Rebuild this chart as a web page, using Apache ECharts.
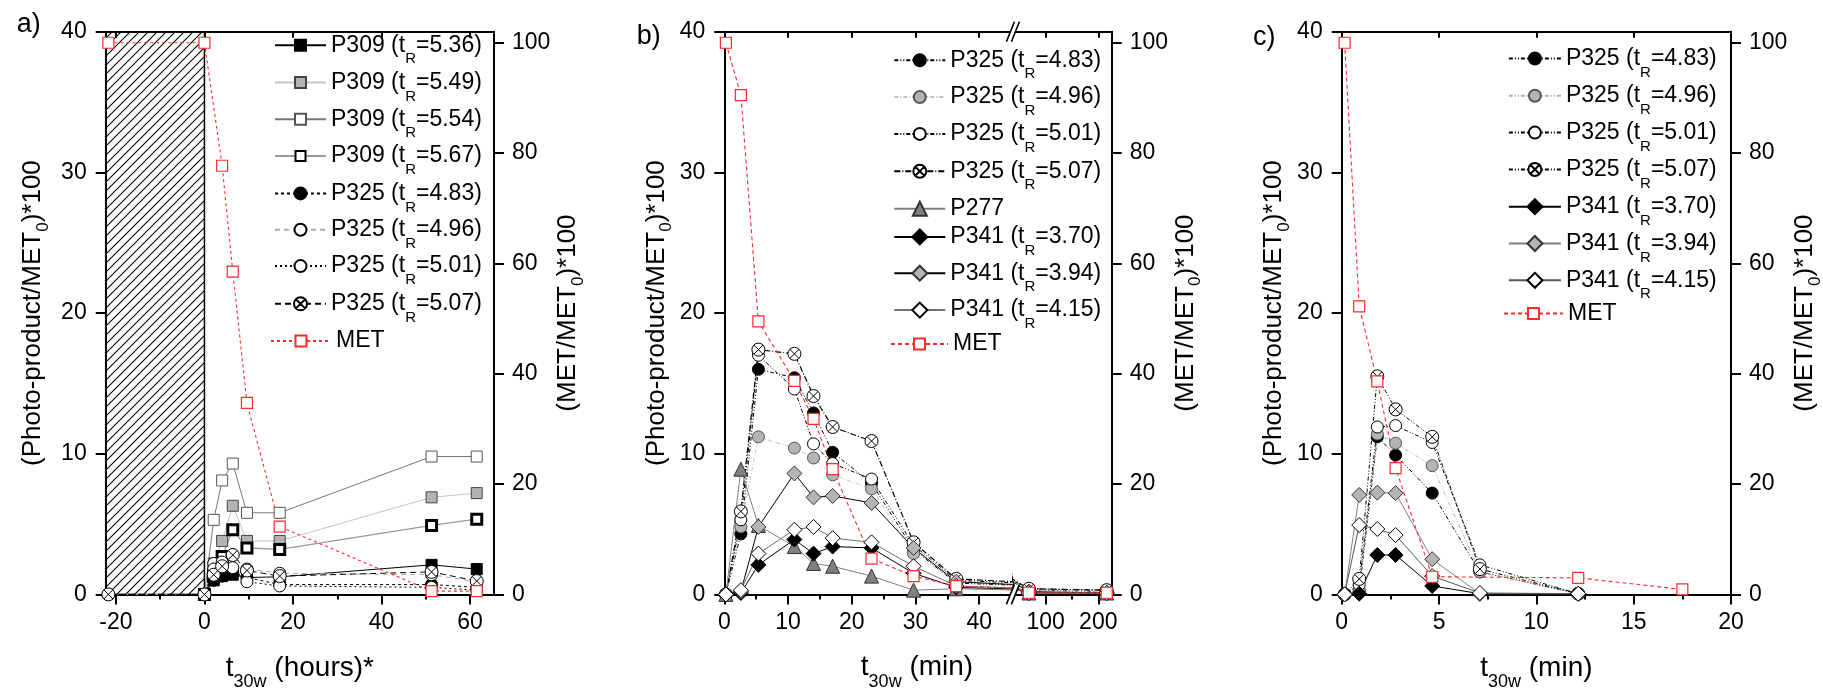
<!DOCTYPE html>
<html><head><meta charset="utf-8">
<script src="https://cdn.jsdelivr.net/npm/echarts@6.0.0/dist/echarts.min.js"></script>
<style>html,body{margin:0;padding:0;background:#fff}#c{width:1823px;height:692px}</style>
</head><body><div id="c"></div><script>
// ---------------- DATA ----------------
// Panel a (hours)
const aTime      = [0, 2.1, 4, 6.4, 9.6, 17, 51.3, 61.5];
const aTimeP325  = [-21.7, 0, 2.1, 4, 6.4, 9.6, 17, 51.3, 61.5];
const aP309_536  = [0, 1.0, 1.3, 1.4, 1.2, 1.25, 2.1, 1.8];
const aP309_549  = [0, 2.2, 3.8, 6.3, 3.8, 3.8, 6.9, 7.2];
const aP309_554  = [0, 5.3, 8.1, 9.3, 5.8, 5.8, 9.8, 9.8];
const aP309_567  = [0, 1.3, 2.7, 4.6, 3.3, 3.2, 4.9, 5.35];
const aP325_483  = [0, 0, 1.0, 1.3, 1.5, 1.2, 0.7, 0.7, 0.5];
const aP325_496  = [0, 0, 2.2, 2.3, 2.8, 1.8, 1.5, 1.4, 0.9];
const aP325_501  = [0, 0, 1.8, 1.9, 1.9, 0.9, 0.6, 0.5, 0.3];
const aP325_507  = [0, 0, 1.4, 2.0, 2.8, 1.7, 1.3, 1.6, 0.95];
const aMetTime   = [-21.7, 0, 4, 6.4, 9.6, 17, 51.3, 61.5];
const aMet       = [100, 100, 77.7, 58.5, 34.7, 12.3, 0.6, 0.6];
const aDarkPeriod = [-22.3, 0];

// Panel b (min)
const bTime      = [0.25, 2.6, 5.35, 11.0, 14.0, 17.0, 23.1, 29.7, 36.4, 68, 216];
const bP325_483  = [0, 4.3, 16.0, 15.4, 12.9, 10.1, 7.9, 3.2, 0.8, 0.3, 0.2];
const bP325_496  = [0, 4.8, 11.2, 10.4, 9.7, 8.5, 7.5, 2.9, 0.9, 0.3, 0.2];
const bP325_501  = [0, 5.3, 17.0, 14.6, 10.7, 9.3, 8.2, 3.5, 1.0, 0.4, 0.3];
const bP325_507  = [0, 5.9, 17.4, 17.1, 14.1, 11.9, 10.9, 3.7, 1.1, 0.4, 0.3];
const bP277      = [0, 8.9, 4.9, 3.4, 2.2, 2.0, 1.3, 0.3, 0.4, 0.1, 0.1];
const bP341_370  = [0, 0.1, 2.1, 3.9, 2.9, 3.4, 3.3, 1.5, 0.5, 0.1, 0.1];
const bP341_394  = [0, 0.2, 4.8, 8.6, 6.9, 7.0, 6.5, 3.3, 0.9, 0.2, 0.1];
const bP341_415  = [0, 0.3, 2.9, 4.6, 4.8, 4.0, 3.7, 2.0, 0.6, 0.1, 0.1];
const bMet       = [100, 90.5, 49.5, 38.7, 31.8, 22.7, 6.5, 3.3, 1.5, 0.3, 0.3];

// Panel c (min)
const cTime      = [0.15, 0.9, 1.83, 2.77, 4.65, 7.1, 12.15];
const cP325_483  = [0, 0.2, 11.2, 9.9, 7.2, 1.6, 0.05];
const cP325_496  = [0, 0.3, 11.4, 10.75, 9.15, 1.6, 0.05];
const cP325_501  = [0, 0.7, 11.9, 12.0, 10.8, 2.1, 0.05];
const cP325_507  = [0, 1.1, 15.5, 13.15, 11.2, 1.8, 0.05];
const cP341_370  = [0, 0.05, 2.8, 2.8, 0.6, 0.05, 0.05];
const cP341_394  = [0, 7.07, 7.23, 7.2, 2.5, 0.05, 0.05];
const cP341_415  = [0, 4.93, 4.65, 4.22, 1.3, 0.1, 0.05];
const cMetTime   = [0.15, 0.9, 1.83, 2.77, 4.65, 12.15, 17.5];
const cMet       = [100, 52.2, 38.6, 22.9, 3.2, 3.0, 0.9];

// Axis ranges / tick labels
const aXRange = [-22.3, 65.4], aXTicks = [-20, 0, 20, 40, 60], aXMinor = [-10, 10, 30, 50];
const b1XRange = [0, 45.3], b1XTicks = [0, 10, 20, 30, 40], b1XMinor = [5, 15, 25, 35];
const b2XRange = [37.8, 225.5], b2XTicks = [100, 200], b2XMinor = [150];
const cXRange = [0, 20], cXTicks = [0, 5, 10, 15, 20], cXMinor = [2.5, 7.5, 12.5, 17.5];
const yLeftRange = [0, 40], yLeftTicks = [0, 10, 20, 30, 40];
const yRightRange = [0, 102], yRightTicks = [0, 20, 40, 60, 80, 100];

// ---------------- LAYOUT / STYLE ----------------
const FONT = '"Liberation Sans", Arial, Helvetica, sans-serif';
const TOP = 31.7, H = 562.7;
const grids = [
  {left:105.7, top:TOP, width:388.3, height:H},
  {left:724.3, top:TOP, width:288.7, height:H},
  {left:1013,  top:TOP, width:98.7,  height:H},
  {left:1341.7,top:TOP, width:389.3, height:H}
].map(g => Object.assign({show:false, containLabel:false, outerBoundsMode:'none'}, g));

const BLK = '#000';
const axLine = {show:true, onZero:false, lineStyle:{color:BLK, width:2}};
const tickLS = {color:BLK, width:2};
const lblStyle = {fontSize:23, color:BLK, fontFamily:FONT};
const yNameStyle = {fontSize:26, color:BLK, fontFamily:FONT,
  rich:{s:{fontSize:17, fontFamily:FONT, color:BLK, padding:[20,0,0,0]}}};
const xNameStyle = {fontSize:28, color:BLK, fontFamily:FONT,
  rich:{s:{fontSize:18, fontFamily:FONT, color:BLK, padding:[29,0,0,0]}}};
const Y_NAME = '(Photo-product/MET{s|0})*100';
const R_NAME = '(MET/MET{s|0})*100';

const xAxes = [], yAxes = [], X = {}, YL = {}, YR = {};
function addAxes(key, gi, xr, xt, xm, o) {
  X[key] = xAxes.length;
  xAxes.push({gridIndex:gi, type:'value', min:xr[0], max:xr[1], position:'bottom',
    axisLine:axLine, axisTick:{show:true, inside:false, length:10, customValues:xt, lineStyle:tickLS},
    axisLabel:Object.assign({show:true, customValues:xt, margin:17}, lblStyle),
    splitLine:{show:false}, name:o.xName || '', nameLocation:'middle', nameGap:50, nameTextStyle:xNameStyle});
  xAxes.push({gridIndex:gi, type:'value', min:xr[0], max:xr[1], position:'bottom',
    axisLine:{show:false, onZero:false}, axisTick:{show:true, length:5, customValues:xm, lineStyle:tickLS},
    axisLabel:{show:false}, splitLine:{show:false}});
  xAxes.push({gridIndex:gi, type:'value', min:xr[0], max:xr[1], position:'top',
    axisLine:axLine, axisTick:{show:true, inside:true, length:6, customValues:xt, lineStyle:tickLS},
    axisLabel:{show:false}, splitLine:{show:false}});
  YL[key] = yAxes.length;
  yAxes.push({gridIndex:gi, type:'value', min:yLeftRange[0], max:yLeftRange[1], position:'left', show:o.left !== false,
    axisLine:axLine, axisTick:{show:true, length:10, customValues:yLeftTicks, lineStyle:tickLS},
    axisLabel:Object.assign({customValues:yLeftTicks, margin:19}, lblStyle), splitLine:{show:false},
    name:o.left === false ? '' : Y_NAME, nameLocation:'middle', nameRotate:90, nameGap:o.lg || 49, nameTextStyle:yNameStyle});
  YR[key] = yAxes.length;
  yAxes.push({gridIndex:gi, type:'value', min:yRightRange[0], max:yRightRange[1], position:'right', show:o.right !== false,
    axisLine:axLine, axisTick:{show:true, length:10, customValues:yRightTicks, lineStyle:tickLS},
    axisLabel:Object.assign({customValues:yRightTicks, margin:18}, lblStyle), splitLine:{show:false},
    name:o.right === false ? '' : R_NAME, nameLocation:'middle', nameRotate:90, nameGap:55.5, nameTextStyle:yNameStyle});
}
addAxes('a', 0, aXRange, aXTicks, aXMinor, {xName:'t{s|30w} (hours)*', lg:54});
addAxes('b1', 1, b1XRange, b1XTicks, b1XMinor, {right:false, lg:49});
addAxes('b2', 2, b2XRange, b2XTicks, b2XMinor, {left:false});
addAxes('c', 3, cXRange, cXTicks, cXMinor, {xName:'t{s|30w} (min)', lg:49});

const OX = 'path://M0,10A10,10,0,1,1,20,10A10,10,0,1,1,0,10ZM2.93,2.93L17.07,17.07M17.07,2.93L2.93,17.07';
const RED = '#ff2a2a';
const S = {
  sqBlack:  {symbol:'rect', size:11, fill:'#000', border:'#000', bw:1},
  sqGray:   {symbol:'rect', size:11, fill:'#b4b4b4', border:'#444', bw:1},
  sqOpen:   {symbol:'rect', size:11, fill:'#fff', border:'#555', bw:1},
  sqBold:   {symbol:'rect', size:10, fill:'#fff', border:'#000', bw:3},
  ciBlack:  {symbol:'circle', size:12, fill:'#000', border:'#000', bw:1},
  ciGray:   {symbol:'circle', size:12, fill:'#b4b4b4', border:'#555', bw:1},
  ciOpen:   {symbol:'circle', size:12, fill:'#fff', border:'#000', bw:1},
  ciX:      {symbol:OX, size:13, fill:'#fff', border:'#000', bw:1},
  triGray:  {symbol:'triangle', size:14, fill:'#808080', border:'#333', bw:1},
  diBlack:  {symbol:'diamond', size:15, fill:'#000', border:'#000', bw:1},
  diGray:   {symbol:'diamond', size:15, fill:'#b4b4b4', border:'#333', bw:1},
  diOpen:   {symbol:'diamond', size:15, fill:'#fff', border:'#000', bw:1},
  met:      {symbol:'rect', size:11, fill:'#fff', border:RED, bw:1.2}
};
function ln(color, width, type) { return {color, width, type}; }

const series = [];
function addSeries(name, gx, gy, yRight, xs, ys, st, ls, extra) {
  const s = {type:'line', name, xAxisIndex:X[gx], yAxisIndex:yRight ? YR[gy] : YL[gy],
    data:xs.map((x, i) => [x, ys[i]]), symbol:st.symbol, symbolSize:st.size, showSymbol:true, clip:true,
    itemStyle:{color:st.fill, borderColor:st.border, borderWidth:st.bw},
    lineStyle:ls, emphasis:{disabled:true}, silent:true, animation:false};
  series.push(Object.assign(s, extra || {}));
}

// hatch pattern
function hatchCanvas() {
  const s = 9, c = document.createElement('canvas'); c.width = s; c.height = s;
  const g = c.getContext('2d'); g.strokeStyle = '#000'; g.lineWidth = 1.1;
  g.beginPath(); g.moveTo(0, s); g.lineTo(s, 0); g.moveTo(-2, 2); g.lineTo(2, -2);
  g.moveTo(s - 2, s + 2); g.lineTo(s + 2, s - 2); g.stroke(); return c;
}

// Panel a series
addSeries('a|P309 (tR=5.36)', 'a','a', false, aTime, aP309_536, S.sqBlack, ln('#000',1,'solid'), {
  markArea:{silent:true, itemStyle:{color:{image:hatchCanvas(), repeat:'repeat'}, borderColor:'#000', borderWidth:1.5},
    data:[[{xAxis:aDarkPeriod[0], yAxis:yLeftRange[0]}, {xAxis:aDarkPeriod[1], yAxis:yLeftRange[1]}]]}});
addSeries('a|P309 (tR=5.49)', 'a','a', false, aTime, aP309_549, S.sqGray, ln('#c4c4c4',1,'solid'));
addSeries('a|P309 (tR=5.54)', 'a','a', false, aTime, aP309_554, S.sqOpen, ln('#777',1,'solid'));
addSeries('a|P309 (tR=5.67)', 'a','a', false, aTime, aP309_567, S.sqBold, ln('#999',1.3,'solid'));
addSeries('a|P325 (tR=4.83)', 'a','a', false, aTimeP325, aP325_483, S.ciBlack, ln('#000',1,[3,3]));
addSeries('a|P325 (tR=4.96)', 'a','a', false, aTimeP325, aP325_496, S.ciOpen, ln('#aaa',1,[5,4]));
addSeries('a|P325 (tR=5.01)', 'a','a', false, aTimeP325, aP325_501, S.ciOpen, ln('#000',1,[2,3]));
addSeries('a|P325 (tR=5.07)', 'a','a', false, aTimeP325, aP325_507, S.ciX, ln('#000',1,[6,4]));
addSeries('a|MET', 'a','a', true, aMetTime, aMet, S.met, ln(RED,1.1,[3,3]));

// Panel b series (left segment b1 and right segment b2 after the axis break)
const bDefs = [
  ['P325 (tR=4.83)', bP325_483, S.ciBlack, ln('#000',1,[4,2,1,2,1,2])],
  ['P325 (tR=4.96)', bP325_496, S.ciGray,  ln('#c0c0c0',1,[4,2,1,2])],
  ['P325 (tR=5.01)', bP325_501, S.ciOpen,  ln('#000',1,[4,2,1,2,1,2])],
  ['P325 (tR=5.07)', bP325_507, S.ciX,     ln('#000',1.2,[6,2,1,2])],
  ['P277',           bP277,     S.triGray, ln('#808080',1,'solid')],
  ['P341 (tR=3.70)', bP341_370, S.diBlack, ln('#000',1,'solid')],
  ['P341 (tR=3.94)', bP341_394, S.diGray,  ln('#000',1,'solid')],
  ['P341 (tR=4.15)', bP341_415, S.diOpen,  ln('#707070',1,'solid')],
  ['MET',            bMet,      S.met,     ln(RED,1.1,[4,3])]
];
bDefs.forEach(d => {
  const right = d[0] === 'MET';
  addSeries('b|' + d[0], 'b1', 'b1', right, bTime, d[1], d[2], d[3]);
  addSeries('b2|' + d[0], 'b2', 'b2', right, bTime, d[1], d[2], d[3]);
});

// Panel c series
addSeries('c|P325 (tR=4.83)', 'c','c', false, cTime, cP325_483, S.ciBlack, ln('#000',1,[4,2,1,2,1,2]));
addSeries('c|P325 (tR=4.96)', 'c','c', false, cTime, cP325_496, S.ciGray,  ln('#b0b0b0',1,[4,2,1,2,1,2]));
addSeries('c|P325 (tR=5.01)', 'c','c', false, cTime, cP325_501, S.ciOpen,  ln('#000',1,[4,2,1,2,1,2]));
addSeries('c|P325 (tR=5.07)', 'c','c', false, cTime, cP325_507, S.ciX,     ln('#000',1,[4,2,1,2,1,2]));
addSeries('c|P341 (tR=3.70)', 'c','c', false, cTime, cP341_370, S.diBlack, ln('#000',1,'solid'));
addSeries('c|P341 (tR=3.94)', 'c','c', false, cTime, cP341_394, S.diGray,  ln('#808080',1,'solid'));
addSeries('c|P341 (tR=4.15)', 'c','c', false, cTime, cP341_415, S.diOpen,  ln('#555',1,'solid'));
addSeries('c|MET', 'c','c', true, cMetTime, cMet, S.met, ln(RED,1.1,[4,3]));

// ---------------- LEGENDS ----------------
const legendRich = {
  m:{fontSize:23, fontFamily:FONT, color:BLK},
  n:{fontSize:23, fontFamily:FONT, color:BLK},
  s:{fontSize:15, fontFamily:FONT, color:BLK, padding:[28,0,0,0]}
};
function fmt(name) {
  const t = name.split('|')[1];
  const m = t.match(/^(.*\(t)R(=.*)$/);
  return m ? '{m|' + m[1] + '}{s|R}{m|' + m[2] + '}' : '{n|' + t + '}';
}
const legends = [];
function addLegend(panel, label, left, cy, iw, st) {
  const name = panel + '|' + label;
  const hasSub = label.indexOf('(tR=') >= 0;
  const ih = st.size / 0.8;
  const boxH = Math.max(hasSub ? 43 : 23, ih);
  const shift = hasSub ? 9.5 : 1.5;
  legends.push({data:[name], left, top:cy - boxH / 2 + shift, orient:'vertical', padding:0, itemGap:0,
    itemWidth:iw, itemHeight:ih, selectedMode:false, formatter:fmt,
    textStyle:{fontSize:23, fontFamily:FONT, color:BLK, rich:legendRich}});
}
const aLeg = [['P309 (tR=5.36)',S.sqBlack],['P309 (tR=5.49)',S.sqGray],['P309 (tR=5.54)',S.sqOpen],['P309 (tR=5.67)',S.sqBold],
  ['P325 (tR=4.83)',S.ciBlack],['P325 (tR=4.96)',S.ciOpen],['P325 (tR=5.01)',S.ciOpen],['P325 (tR=5.07)',S.ciX],['MET',S.met]];
const aLegY = [45.7, 83, 119.8, 156.6, 193.9, 230.3, 266.6, 304.3, 339.4];
aLeg.forEach((l, i) => addLegend('a', l[0], l[0] === 'MET' ? 270 : 274, aLegY[i], l[0] === 'MET' ? 60 : 51, l[1]));
const bLegY = [60.8, 97.6, 134.4, 171.7, 207.2, 237.4, 273.7, 310.6, 342.5];
bDefs.forEach((d, i) => addLegend('b', d[0], d[0] === 'MET' ? 890 : 893.3, bLegY[i], d[0] === 'MET' ? 57 : 51, d[2]));
const cLeg = [['P325 (tR=4.83)',S.ciBlack],['P325 (tR=4.96)',S.ciGray],['P325 (tR=5.01)',S.ciOpen],['P325 (tR=5.07)',S.ciX],
  ['P341 (tR=3.70)',S.diBlack],['P341 (tR=3.94)',S.diGray],['P341 (tR=4.15)',S.diOpen],['MET',S.met]];
const cLegY = [59, 96.3, 133.1, 169.9, 207.2, 244, 280.8, 311.9];
cLeg.forEach((l, i) => addLegend('c', l[0], l[0] === 'MET' ? 1503 : 1507.9, cLegY[i], l[0] === 'MET' ? 59 : 52, l[1]));

// ---------------- GRAPHICS (panel letters, break marks, panel b x title) ----------------
function breakMark(bx, by) {
  return [
    {type:'polygon', shape:{points:[[bx-7,by+10],[bx+1,by-10],[bx+6,by-10],[bx-2,by+10]]}, style:{fill:'#fff'}, z:100},
    {type:'line', shape:{x1:bx-7, y1:by+10, x2:bx+1, y2:by-10}, style:{stroke:'#000', lineWidth:1.6}, z:101},
    {type:'line', shape:{x1:bx-2, y1:by+10, x2:bx+6, y2:by-10}, style:{stroke:'#000', lineWidth:1.6}, z:101}
  ];
}
const graphic = [
  {type:'text', x:16.7, y:24.4, style:{text:'a)', fontSize:27, fontFamily:FONT, fill:BLK, verticalAlign:'middle'}},
  {type:'text', x:636.7, y:36.3, style:{text:'b)', fontSize:27, fontFamily:FONT, fill:BLK, verticalAlign:'middle'}},
  {type:'text', x:1253, y:37.7, style:{text:'c)', fontSize:27, fontFamily:FONT, fill:BLK, verticalAlign:'middle'}},
  {type:'text', x:917, y:667.7, style:{text:'t{s|30w} (min)', fontSize:28, fontFamily:FONT, fill:BLK,
    align:'center', verticalAlign:'middle', rich:xNameStyle.rich}}
].concat(breakMark(1013.4, TOP), breakMark(1013.4, TOP + H));

const chart = echarts.init(document.getElementById('c'), null, {renderer:'canvas'});
chart.setOption({
  animation:false, backgroundColor:'#fff',
  grid:grids, xAxis:xAxes, yAxis:yAxes, series, legend:legends, graphic
});
</script></body></html>
